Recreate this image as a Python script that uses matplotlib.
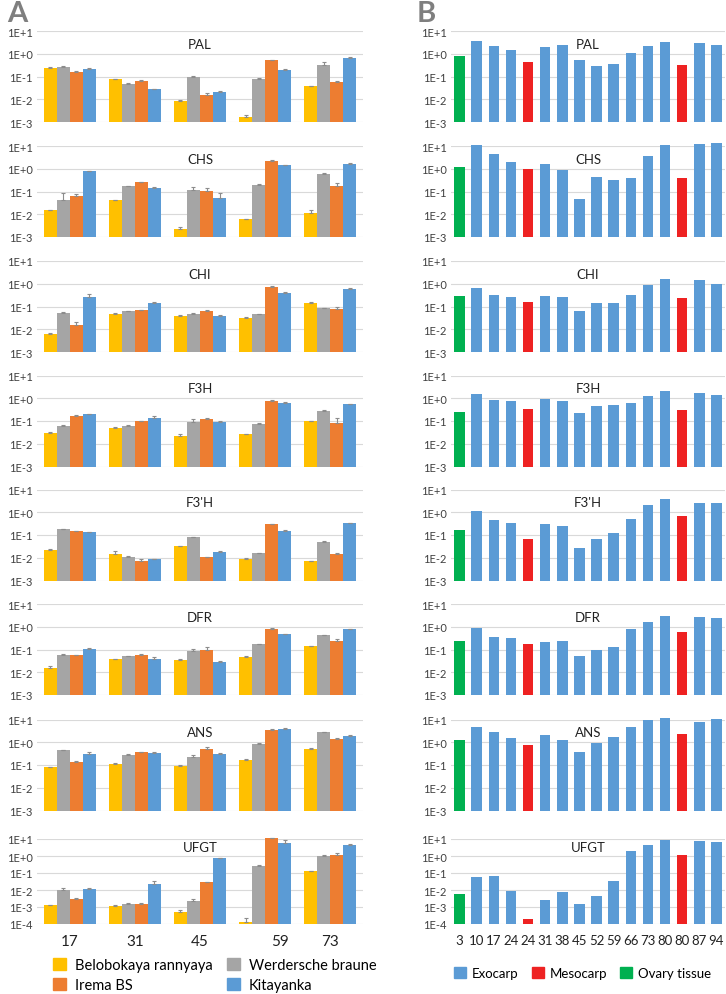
import numpy as np
import matplotlib
matplotlib.use('Agg')
import matplotlib.pyplot as plt
from matplotlib.patches import Patch
from matplotlib.transforms import ScaledTranslation

plt.rcParams['font.family'] = ['Lato', 'DejaVu Sans']

# ---- panel A: four cultivars, five time points ----
days_a = ['17', '31', '45', '59', '73']
cultivars = ['Belobokaya rannyaya', 'Werdersche braune', 'Irema BS', 'Kitayanka']
cult_colors = ['#FFC000', '#A5A5A5', '#ED7D31', '#5B9BD5']
genes = ['PAL', 'CHS', 'CHI', 'F3H', "F3'H", 'DFR', 'ANS', 'UFGT']

# rows: Belobokaya, Werdersche, Irema, Kitayanka
pal_a = [[0.24, 0.076, 0.0087, 0.0017, 0.037],
         [0.27, 0.049, 0.10, 0.081, 0.32],
         [0.16, 0.066, 0.015, 0.51, 0.058],
         [0.22, 0.028, 0.020, 0.19, 0.66]]
chs_a = [[0.0147, 0.041, 0.0022, 0.006, 0.0112],
         [0.042, 0.17, 0.117, 0.195, 0.56],
         [0.066, 0.25, 0.105, 2.24, 0.175],
         [0.78, 0.148, 0.053, 1.39, 1.65]]
chi_a = [[0.0065, 0.048, 0.038, 0.032, 0.14],
         [0.05, 0.063, 0.045, 0.046, 0.085],
         [0.016, 0.068, 0.065, 0.75, 0.078],
         [0.27, 0.14, 0.04, 0.41, 0.6]]
f3h_a = [[0.031, 0.05, 0.021, 0.026, 0.1],
         [0.059, 0.063, 0.095, 0.075, 0.27],
         [0.16, 0.1, 0.125, 0.78, 0.083],
         [0.2, 0.14, 0.095, 0.63, 0.54]]
f3ph_a = [[0.022, 0.015, 0.032, 0.0091, 0.0069],
          [0.18, 0.011, 0.081, 0.0155, 0.049],
          [0.145, 0.0074, 0.0103, 0.295, 0.0145],
          [0.135, 0.0087, 0.018, 0.155, 0.34]]
dfr_a = [[0.015, 0.037, 0.035, 0.049, 0.142],
         [0.057, 0.05, 0.089, 0.168, 0.42],
         [0.057, 0.057, 0.1, 0.81, 0.24],
         [0.11, 0.04, 0.029, 0.46, 0.76]]
ans_a = [[0.078, 0.112, 0.095, 0.17, 0.52],
         [0.44, 0.28, 0.23, 0.81, 2.75],
         [0.13, 0.36, 0.49, 3.6, 1.45],
         [0.31, 0.33, 0.32, 3.7, 1.95]]
ufgt_a = [[0.0013, 0.0012, 0.00053, 0.000125, 0.125],
          [0.0105, 0.00144, 0.0022, 0.26, 1.05],
          [0.003, 0.00144, 0.028, 11.5, 1.2],
          [0.012, 0.0235, 0.76, 5.8, 4.7]]

pal_err = [[0.01, 0.004, 0.0005, 0.0004, 0.002], [0.01, 0.003, 0.005, 0.005, 0.1],
           [0.008, 0.004, 0.003, 0.03, 0.004], [0.01, 0.001, 0.002, 0.03, 0.03]]
chs_err = [[0.001, 0.001, 0.0006, 0.0004, 0.004], [0.045, 0.01, 0.035, 0.01, 0.06],
           [0.015, 0.01, 0.035, 0.2, 0.05], [0.05, 0.015, 0.03, 0.1, 0.2]]
chi_err = [[0.0004, 0.002, 0.003, 0.002, 0.02], [0.008, 0.002, 0.006, 0.002, 0.005],
           [0.004, 0.004, 0.006, 0.08, 0.02], [0.07, 0.015, 0.003, 0.03, 0.05]]
f3h_err = [[0.002, 0.002, 0.005, 0.001, 0.004], [0.01, 0.005, 0.03, 0.004, 0.02],
           [0.03, 0.005, 0.01, 0.03, 0.05], [0.01, 0.03, 0.005, 0.03, 0.03]]
f3ph_err = [[0.002, 0.005, 0.002, 0.0005, 0.0004], [0.01, 0.0008, 0.004, 0.001, 0.006],
            [0.007, 0.001, 0.0005, 0.02, 0.001], [0.005, 0.0005, 0.001, 0.01, 0.01]]
dfr_err = [[0.003, 0.002, 0.002, 0.003, 0.005], [0.005, 0.003, 0.015, 0.01, 0.03],
           [0.003, 0.004, 0.03, 0.05, 0.05], [0.005, 0.005, 0.002, 0.02, 0.04]]
ans_err = [[0.005, 0.005, 0.005, 0.01, 0.06], [0.03, 0.01, 0.04, 0.08, 0.15],
           [0.02, 0.03, 0.13, 0.2, 0.1], [0.06, 0.03, 0.02, 0.7, 0.1]]
ufgt_err = [[0.0001, 0.00005, 0.00015, 0.0001, 0.01], [0.002, 0.0003, 0.0008, 0.02, 0.05],
            [0.0002, 0.0003, 0.002, 0.5, 0.3], [0.001, 0.009, 0.05, 2.5, 0.3]]

# ---- panel B: Kitayanka tissues ----
days_b = ['3', '10', '17', '24', '24', '31', '38', '45', '52', '59', '66', '73', '80', '80', '87', '94']
tissue_b = ['ovary', 'exo', 'exo', 'exo', 'meso', 'exo', 'exo', 'exo', 'exo', 'exo',
            'exo', 'exo', 'exo', 'meso', 'exo', 'exo']
tissue_colors = {'exo': '#5B9BD5', 'meso': '#EE2222', 'ovary': '#00B050'}
tissue_names = {'exo': 'Exocarp', 'meso': 'Mesocarp', 'ovary': 'Ovary tissue'}

pal_b = [0.8, 3.6, 2.2, 1.5, 0.42, 2.05, 2.5, 0.55, 0.3, 0.36, 1.07, 2.2, 3.2, 0.32, 2.9, 2.4]
chs_b = [1.2, 11.5, 4.4, 1.95, 0.93, 1.65, 0.9, 0.045, 0.45, 0.33, 0.4, 3.6, 10.7, 0.38, 12.3, 14]
chi_b = [0.28, 0.68, 0.31, 0.26, 0.16, 0.29, 0.255, 0.063, 0.148, 0.142, 0.32, 0.9, 1.6, 0.23, 1.39, 0.96]
f3h_b = [0.245, 1.6, 0.85, 0.77, 0.33, 0.94, 0.77, 0.23, 0.48, 0.51, 0.63, 1.23, 2.05, 0.3, 1.66, 1.41]
f3ph_b = [0.174, 1.13, 0.46, 0.35, 0.07, 0.31, 0.26, 0.027, 0.068, 0.124, 0.51, 2.15, 3.65, 0.71, 2.45, 2.45]
dfr_b = [0.24, 0.92, 0.36, 0.315, 0.17, 0.224, 0.247, 0.053, 0.1, 0.126, 0.83, 1.63, 2.97, 0.57, 2.7, 2.45]
ans_b = [1.2, 4.6, 2.95, 1.6, 0.78, 2.17, 1.3, 0.355, 0.93, 1.77, 4.75, 9.3, 11.4, 2.4, 7.4, 11]
ufgt_b = [0.0058, 0.058, 0.063, 0.0087, 0.0002, 0.0026, 0.0076, 0.0015, 0.0047, 0.034,
          1.86, 4.4, 8.7, 1.2, 7.6, 6.9]

data_a = [pal_a, chs_a, chi_a, f3h_a, f3ph_a, dfr_a, ans_a, ufgt_a]
err_a = [pal_err, chs_err, chi_err, f3h_err, f3ph_err, dfr_err, ans_err, ufgt_err]
data_b = [pal_b, chs_b, chi_b, f3h_b, f3ph_b, dfr_b, ans_b, ufgt_b]

W, H = 726, 995
fig = plt.figure(figsize=(W / 100, H / 100), dpi=100)

tops = [32, 147, 262, 376.5, 490.5, 605, 720.5, 840]
bottoms = [t + 91 for t in tops[:-1]] + [925]
grid_c = '#D9D9D9'
tick_c = '#404040'


def px_axes(x0, y0, x1, y1):
    return fig.add_axes([x0 / W, 1 - y1 / H, (x1 - x0) / W, (y1 - y0) / H])


def style_axis(ax, low, title, title_y):
    ax.set_yscale('log')
    ax.set_ylim(low, 10)
    decs = np.arange(int(np.log10(low)), 2)
    ax.set_yticks(10.0 ** decs)
    ax.set_yticklabels(['1E%+d' % d for d in decs])
    ax.yaxis.set_minor_locator(plt.NullLocator())
    ax.grid(axis='y', color=grid_c, lw=0.8)
    ax.set_axisbelow(True)
    for s in ax.spines.values():
        s.set_visible(False)
    ax.tick_params(axis='y', length=0, labelsize=8, colors=tick_c, pad=3)
    ax.tick_params(axis='x', length=0, labelsize=11, colors='#222222', pad=7)
    ax.text(0.5, title_y, title, transform=ax.transAxes, ha='center', va='center',
            fontsize=9.5, color='#222222')


for i, gene in enumerate(genes):
    low = 1e-4 if gene == 'UFGT' else 1e-3
    ty = 0.9 if gene == 'UFGT' else 0.86

    # panel A
    ax = px_axes(37, tops[i], 363, bottoms[i])
    x = np.arange(len(days_a))
    bw = 0.2
    for k in range(4):
        xs = x + (k - 1.5) * bw
        vals = np.array(data_a[i][k])
        ax.bar(xs, vals - low, bottom=low, width=bw, color=cult_colors[k], clip_on=False)
        ax.errorbar(xs, vals, yerr=[np.zeros(len(vals)), err_a[i][k]], fmt='none',
                    ecolor='#8C8C8C', elinewidth=0.8, capsize=1.5, capthick=0.8, clip_on=False)
    ax.set_xlim(-0.5, len(days_a) - 0.5)
    style_axis(ax, low, gene, ty)
    ax.set_xticks(x)
    if i == len(genes) - 1:
        ax.set_xticklabels(days_a)
        for lab in ax.get_xticklabels():
            if lab.get_text() == '59':
                lab.set_transform(lab.get_transform() + ScaledTranslation(0.15, 0, fig.dpi_scale_trans))
    else:
        ax.set_xticklabels([])

    # panel B
    ax = px_axes(451, tops[i], 725, bottoms[i])
    xb = np.arange(len(days_b))
    vals = np.array(data_b[i])
    ax.bar(xb, vals - low, bottom=low, width=0.62,
           color=[tissue_colors[t] for t in tissue_b], clip_on=False)
    ax.set_xlim(-0.5, len(days_b) - 0.5)
    style_axis(ax, low, gene, ty)
    ax.set_xticks(xb)
    if i == len(genes) - 1:
        ax.set_xticklabels(days_b)
        ax.tick_params(axis='x', labelsize=9.5, pad=7)
    else:
        ax.set_xticklabels([])

fig.text(7 / W, 1 - 14 / H, 'A', fontsize=21, fontweight='bold', color='#7F7F7F', va='center')
fig.text(417 / W, 1 - 14 / H, 'B', fontsize=21, fontweight='bold', color='#7F7F7F', va='center')

# legends
order = [0, 2, 1, 3]
handles_a = [Patch(color=cult_colors[k], label=cultivars[k]) for k in order]
fig.legend(handles=handles_a, ncol=2, loc='upper left', bbox_to_anchor=(47 / W, 1 - 953 / H),
           frameon=False, fontsize=10.5, handlelength=0.9, handleheight=0.9,
           handletextpad=0.6, columnspacing=1.0, labelspacing=0.4, borderaxespad=0)
handles_b = [Patch(color=tissue_colors[t], label=tissue_names[t]) for t in ['exo', 'meso', 'ovary']]
fig.legend(handles=handles_b, ncol=3, loc='upper left', bbox_to_anchor=(449 / W, 1 - 963 / H),
           frameon=False, fontsize=9.5, handlelength=0.9, handleheight=0.9,
           handletextpad=0.45, columnspacing=1.0, borderaxespad=0)

fig.savefig('out.png', dpi=100, facecolor='white')
